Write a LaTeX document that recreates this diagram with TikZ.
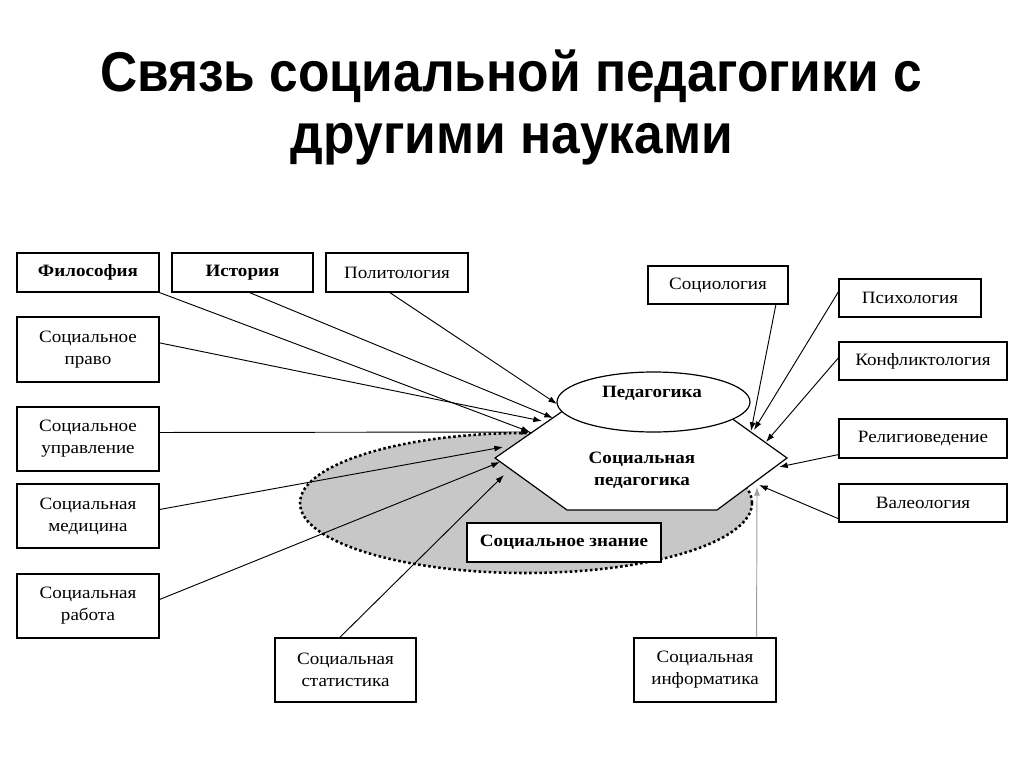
\documentclass[tikz,border=0pt]{standalone}
\usepackage{fontspec}
\setmainfont{Liberation Serif}
\newfontfamily\bodyfont[FakeStretch=1.1]{Liberation Serif}
\newfontfamily\titlefont[FakeStretch=0.92]{Liberation Sans}
\usetikzlibrary{arrows.meta,calc,shapes.geometric}
\begin{document}
\begin{tikzpicture}[x=0.75pt,y=-0.75pt,
  box/.style={draw=black, line width=0.9pt, fill=white, inner sep=0pt, align=center,
    font=\bodyfont\fontsize{13}{16.5}\selectfont},
  bbox/.style={box, font=\bodyfont\bfseries\fontsize{13}{16.5}\selectfont},
  sz/.style 2 args={minimum width=#1*0.75pt, minimum height=#2*0.75pt},
  lbl/.style={inner sep=0pt, align=center, font=\bodyfont\bfseries\fontsize{13}{16.5}\selectfont},
  arr/.style={-{Latex[length=6.5pt,width=4.5pt]}, line width=0.7pt, draw=black},
  garr/.style={arr, draw=gray!75},
  ttl/.style={font=\titlefont\bfseries\fontsize{42}{50}\selectfont, anchor=base, inner sep=0pt}]

\useasboundingbox[fill=white] (0,0) rectangle (1024,767);

% title
\node[ttl] (t1) at (511,92) {Связь социальной педагогики с};
\node[ttl] (t2) at (512,153) {другими науками};

% social knowledge area
\draw[fill=black!22, line width=1.9pt, dash pattern=on 1.9pt off 1.9pt] (526,503) ellipse [x radius=226, y radius=70];

% social pedagogy hexagon
\draw[line width=0.9pt, fill=white] (570,406) -- (720,410) -- (787,458) -- (717,510) -- (567,510) -- (495,458) -- cycle;
\node[lbl] (sp) at (642,470) {Социальная\\педагогика};

% pedagogy ellipse
\node[draw, line width=0.9pt, fill=white, ellipse, inner sep=0pt, minimum width=144.75pt, minimum height=45pt] (ped) at (653.5,402) {};
\node[lbl] (pedt) at (652,393) {Педагогика};

\node[bbox, sz={194}{39}] (zn) at (564,542.5) {Социальное знание};

% left boxes
\node[bbox, sz={142}{39}] (fil) at (88,272.5) {Философия};
\node[bbox, sz={141}{39}] (ist) at (242.5,272.5) {История};
\node[box, sz={142}{39}] (pol) at (397,272.5) {Политология};
\node[box, sz={142}{65}] (pravo) at (88,349.5) {Социальное\\право};
\node[box, sz={142}{64}] (upr) at (88,439) {Социальное\\управление};
\node[box, sz={142}{64}] (med) at (88,516) {Социальная\\медицина};
\node[box, sz={142}{64}] (rab) at (88,606) {Социальная\\работа};

% bottom boxes
\node[box, sz={141}{64}] (stat) at (345.5,670) {Социальная\\статистика};
\node[box, sz={142}{64}] (inf) at (705,670) {Социальная\\информатика};

% right boxes
\node[box, sz={140}{38}] (soc) at (718,285) {Социология};
\node[box, sz={142}{38}] (psy) at (910,298) {Психология};
\node[box, sz={168}{38}] (konf) at (923,361) {Конфликтология};
\node[box, sz={168}{39}] (rel) at (923,438.5) {Религиоведение};
\node[box, sz={168}{38}] (val) at (923,503) {Валеология};

% arrow targets
\coordinate (tPol) at (557,404);
\coordinate (tIst) at (553,418);
\coordinate (tPravo) at (542,421);
\coordinate (tFil) at (530,432);
\coordinate (tUpr) at (530,432);
\coordinate (tMed) at (503,447);
\coordinate (tRab) at (500,462);
\coordinate (tStat) at (504,475);
\coordinate (tInf) at (757,487);
\coordinate (tSoc) at (751,431);
\coordinate (tPsy) at (754,430);
\coordinate (tKonf) at (766,442);
\coordinate (tRel) at (779,467);
\coordinate (tVal) at (759,485);

% connectors
\draw[arr] (fil.south east) -- (tFil);
\draw[arr] ($(ist.south west)!0.55!(ist.south east)$) -- (tIst);
\draw[arr] ($(pol.south west)!0.45!(pol.south east)$) -- (tPol);
\draw[arr] ($(pravo.north east)!0.4!(pravo.south east)$) -- (tPravo);
\draw[arr] ($(upr.north east)!0.4!(upr.south east)$) -- (tUpr);
\draw[arr] ($(med.north east)!0.4!(med.south east)$) -- (tMed);
\draw[arr] ($(rab.north east)!0.4!(rab.south east)$) -- (tRab);
\draw[arr] ($(stat.north west)!0.46!(stat.north east)$) -- (tStat);
\draw[garr] ($(inf.north west)!0.86!(inf.north east)$) -- (tInf);
\draw[arr] ($(soc.south west)!0.91!(soc.south east)$) -- (tSoc);
\draw[arr] ($(psy.north west)!0.34!(psy.south west)$) -- (tPsy);
\draw[arr] ($(konf.north west)!0.42!(konf.south west)$) -- (tKonf);
\draw[arr] ($(rel.north west)!0.9!(rel.south west)$) -- (tRel);
\draw[arr] ($(val.north west)!0.9!(val.south west)$) -- (tVal);
\end{tikzpicture}
\end{document}
